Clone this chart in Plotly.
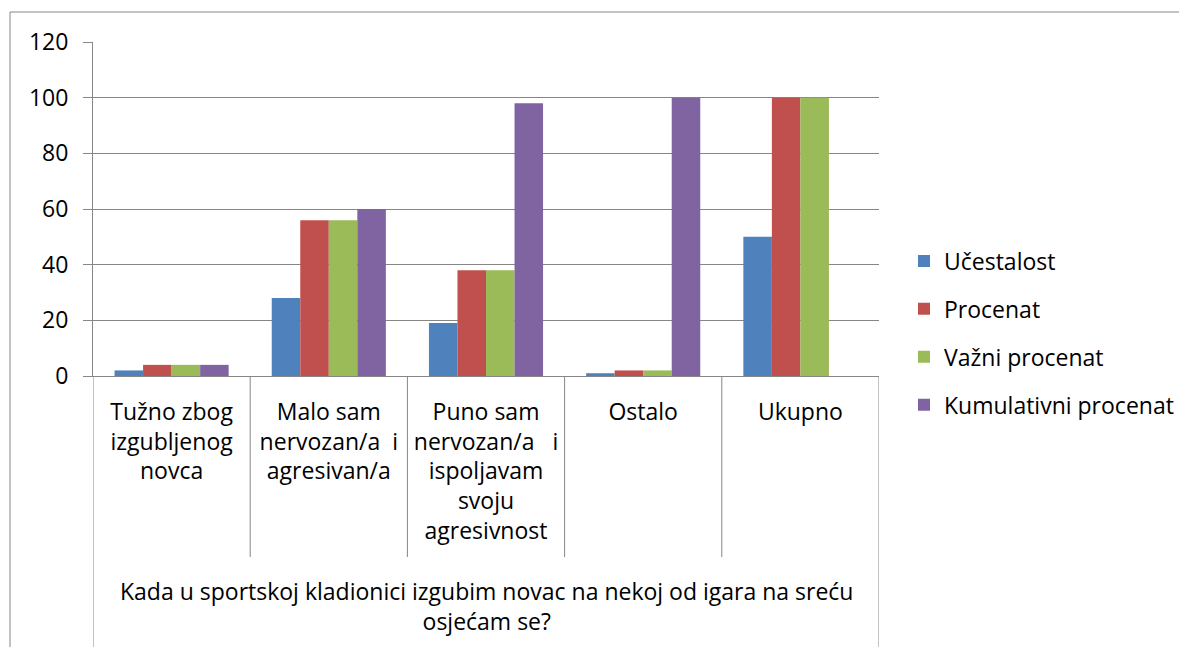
import plotly.graph_objects as go

categories = [
    "Tužno zbog<br>izgubljenog<br>novca",
    "Malo sam<br>nervozan/a\u00a0 i<br>agresivan/a",
    "Puno sam<br>nervozan/a\u00a0\u00a0 i<br>ispoljavam<br>svoju<br>agresivnost",
    "Ostalo",
    "Ukupno",
]
series_names = ["Učestalost", "Procenat", "Važni procenat", "Kumulativni procenat"]
ucestalost = [2, 28, 19, 1, 50]
procenat = [4, 56, 38, 2, 100]
vazni_procenat = [4, 56, 38, 2, 100]
kumulativni_procenat = [4, 60, 98, 100, None]
y_ticks = [0, 20, 40, 60, 80, 100, 120]
axis_title = "Kada u sportskoj kladionici izgubim novac na nekoj od igara na sreću<br>osjećam se?"

colors = ["#4F81BD", "#C0504D", "#9BBB59", "#8064A2"]
values = [ucestalost, procenat, vazni_procenat, kumulativni_procenat]

FONT = "Open Sans"
FS = 23
GRID = "#868686"

fig = go.Figure()
for i, (name, vals) in enumerate(zip(series_names, values)):
    fig.add_trace(go.Bar(
        x=categories, y=vals, name=name, marker_color=colors[i],
        marker_line_width=0, legendgroup=f"g{i}",
    ))

# page has an 8px body margin; work in screen coords and shift
OFF = 8
W, H = 1187 - OFF, 647 - OFF
L, T = 93 - OFF, 42 - OFF
R = W - (879 - OFF)
B = H - (376 - OFF)
pw, ph = W - L - R, H - T - B

def px(xs):
    return (xs - OFF - L) / pw

def py(ys):
    return (H - B - (ys - OFF)) / ph

shapes = []
# outer chart border
shapes.append(dict(type="rect", xref="paper", yref="paper",
                   x0=px(10), y0=py(12), x1=px(1240), y1=py(700),
                   line=dict(color=GRID, width=1), layer="below"))
# category dividers
for k in range(len(categories) + 1):
    xv = k - 0.5
    yend = py(660) if k in (0, len(categories)) else py(557)
    shapes.append(dict(type="line", xref="x", yref="paper",
                       x0=xv, x1=xv, y0=0, y1=yend,
                       line=dict(color=GRID, width=1)))

fig.update_layout(
    width=W, height=H, autosize=False,
    margin=dict(l=L, r=R, t=T, b=B, pad=0, autoexpand=False),
    paper_bgcolor="white", plot_bgcolor="white",
    font=dict(family=FONT, size=FS, color="black"),
    barmode="group", bargap=0.274, bargroupgap=0,
    shapes=shapes,
    legend=dict(x=px(904), xanchor="left", y=py(333), yanchor="middle",
                font=dict(family=FONT, size=FS, color="black"),
                tracegroupgap=15, bgcolor="rgba(0,0,0,0)"),
    annotations=[dict(text=axis_title, xref="paper", yref="paper",
                      x=0.5, y=py(573), xanchor="center", yanchor="top",
                      showarrow=False, align="center",
                      font=dict(family=FONT, size=FS, color="black"))],
)
fig.update_xaxes(type="category", range=[-0.5, len(categories) - 0.5],
                 showline=True, linecolor=GRID, linewidth=1,
                 ticks="", showgrid=False, ticklabelstandoff=15,
                 automargin=False,
                 tickfont=dict(family=FONT, size=FS, color="black"))
fig.update_yaxes(range=[0, 120], tickvals=y_ticks, showline=True,
                 linecolor=GRID, linewidth=1, ticks="outside", ticklen=9,
                 tickcolor=GRID, gridcolor=GRID, gridwidth=1, zeroline=False,
                 ticklabelstandoff=10, automargin=False,
                 tickfont=dict(family=FONT, size=FS, color="black"))

fig.write_html("out.html")
